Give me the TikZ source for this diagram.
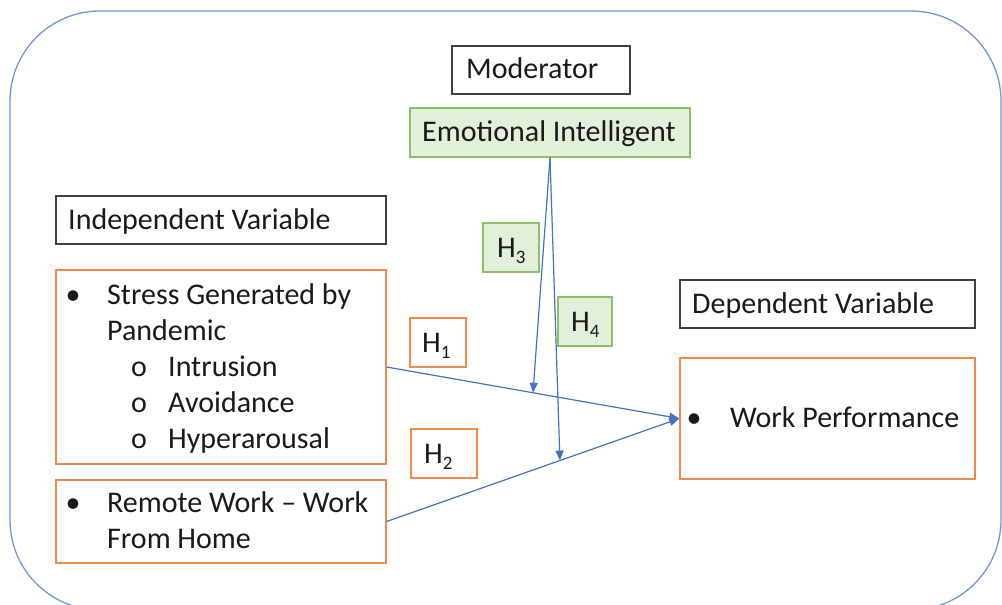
\documentclass[tikz,border=0pt]{standalone}
\usepackage{fontspec}
\setmainfont{Carlito}
\usetikzlibrary{arrows.meta}
\definecolor{bord}{HTML}{404040}
\definecolor{orng}{HTML}{F08A4B}
\definecolor{grn}{HTML}{8CC168}
\definecolor{lgrn}{HTML}{E2F0D9}
\definecolor{blu}{HTML}{4472C4}
\definecolor{outerc}{HTML}{6F97D6}
\definecolor{ink}{HTML}{1A1A1A}
\newcommand{\hyp}[1]{H\raisebox{-6pt}{\fontsize{19}{19}\selectfont #1}}
\begin{document}
\begin{tikzpicture}[x=1pt,y=-1pt,
  basebox/.style={rectangle, line width=1.3pt, inner sep=0pt},
  kbox/.style={basebox, draw=bord},
  obox/.style={basebox, draw=orng},
  gbox/.style={basebox, draw=grn, fill=lgrn},
  txt/.style={inner sep=0pt, anchor=base west, text=ink, font=\fontsize{30}{36}\selectfont},
  conn/.style={draw=blu, line width=1.2pt},
  tip/.style={conn, -{Triangle[length=10pt,width=8pt]}}
]
\useasboundingbox (0,0) rectangle (1002,605);
\begin{scope}
  \clip (0,0) rectangle (1002,605);
  \draw[outerc, line width=1.3pt, rounded corners=90pt] (10,11) rectangle (1001,610);
\end{scope}

% boxes
\node[kbox, minimum width=178pt, minimum height=48pt] (mod) at (541,70) {};
\node[gbox, minimum width=280pt, minimum height=49pt] (ei) at (550,132.5) {};
\node[kbox, minimum width=330pt, minimum height=48pt] (iv) at (221,220) {};
\node[obox, minimum width=330pt, minimum height=194pt] (stress) at (221,367) {};
\node[obox, minimum width=330pt, minimum height=83pt] (remote) at (221,521.5) {};
\node[kbox, minimum width=295pt, minimum height=48pt] (dv) at (827.5,304) {};
\node[obox, minimum width=295pt, minimum height=121pt] (wp) at (827.5,418.5) {};
\node[obox, minimum width=56pt, minimum height=49pt] (h1) at (438,342.5) {};
\node[obox, minimum width=66pt, minimum height=49pt] (h2) at (444,453.5) {};
\node[gbox, minimum width=56pt, minimum height=49pt] (h3) at (511,247.5) {};
\node[gbox, minimum width=54pt, minimum height=49pt] (h4) at (585,321.5) {};

% texts
\node[txt] (tmod) at (466,78) {Moderator};
\node[txt] (tei) at (422,141) {Emotional Intelligent};
\node[txt] (tiv) at (68,229) {Independent Variable};
\node[txt, anchor=base] (b1) at (73,304) {\textbullet};
\node[txt] (s1) at (107,304) {Stress Generated by};
\node[txt] (s2) at (107,340) {Pandemic};
\node[txt] (o1) at (131,376) {o};
\node[txt] (s3) at (168,376) {Intrusion};
\node[txt] (o2) at (131,412) {o};
\node[txt] (s4) at (168,412) {Avoidance};
\node[txt] (o3) at (131,448) {o};
\node[txt] (s5) at (168,448) {Hyperarousal};
\node[txt, anchor=base] (b2) at (73,512) {\textbullet};
\node[txt] (r1) at (107,512) {Remote Work – Work};
\node[txt] (r2) at (107,548) {From Home};
\node[txt] (tdv) at (692,313) {Dependent Variable};
\node[txt, anchor=base] (b3) at (694,427) {\textbullet};
\node[txt] (twp) at (730,427) {Work Performance};
\node[txt] (th1) at (422,352) {\hyp{1}};
\node[txt] (th2) at (424,463) {\hyp{2}};
\node[txt] (th3) at (497,257) {\hyp{3}};
\node[txt] (th4) at (571,331) {\hyp{4}};

% connectors
\draw[tip] (stress.east) -- (wp.west) coordinate[pos=0.5] (m1);
\draw[tip] (remote.east) -- (wp.west) coordinate[pos=0.592] (m2);
\draw[tip] (ei.south) -- (m1);
\draw[tip] (ei.south) -- (m2);
\end{tikzpicture}
\end{document}
